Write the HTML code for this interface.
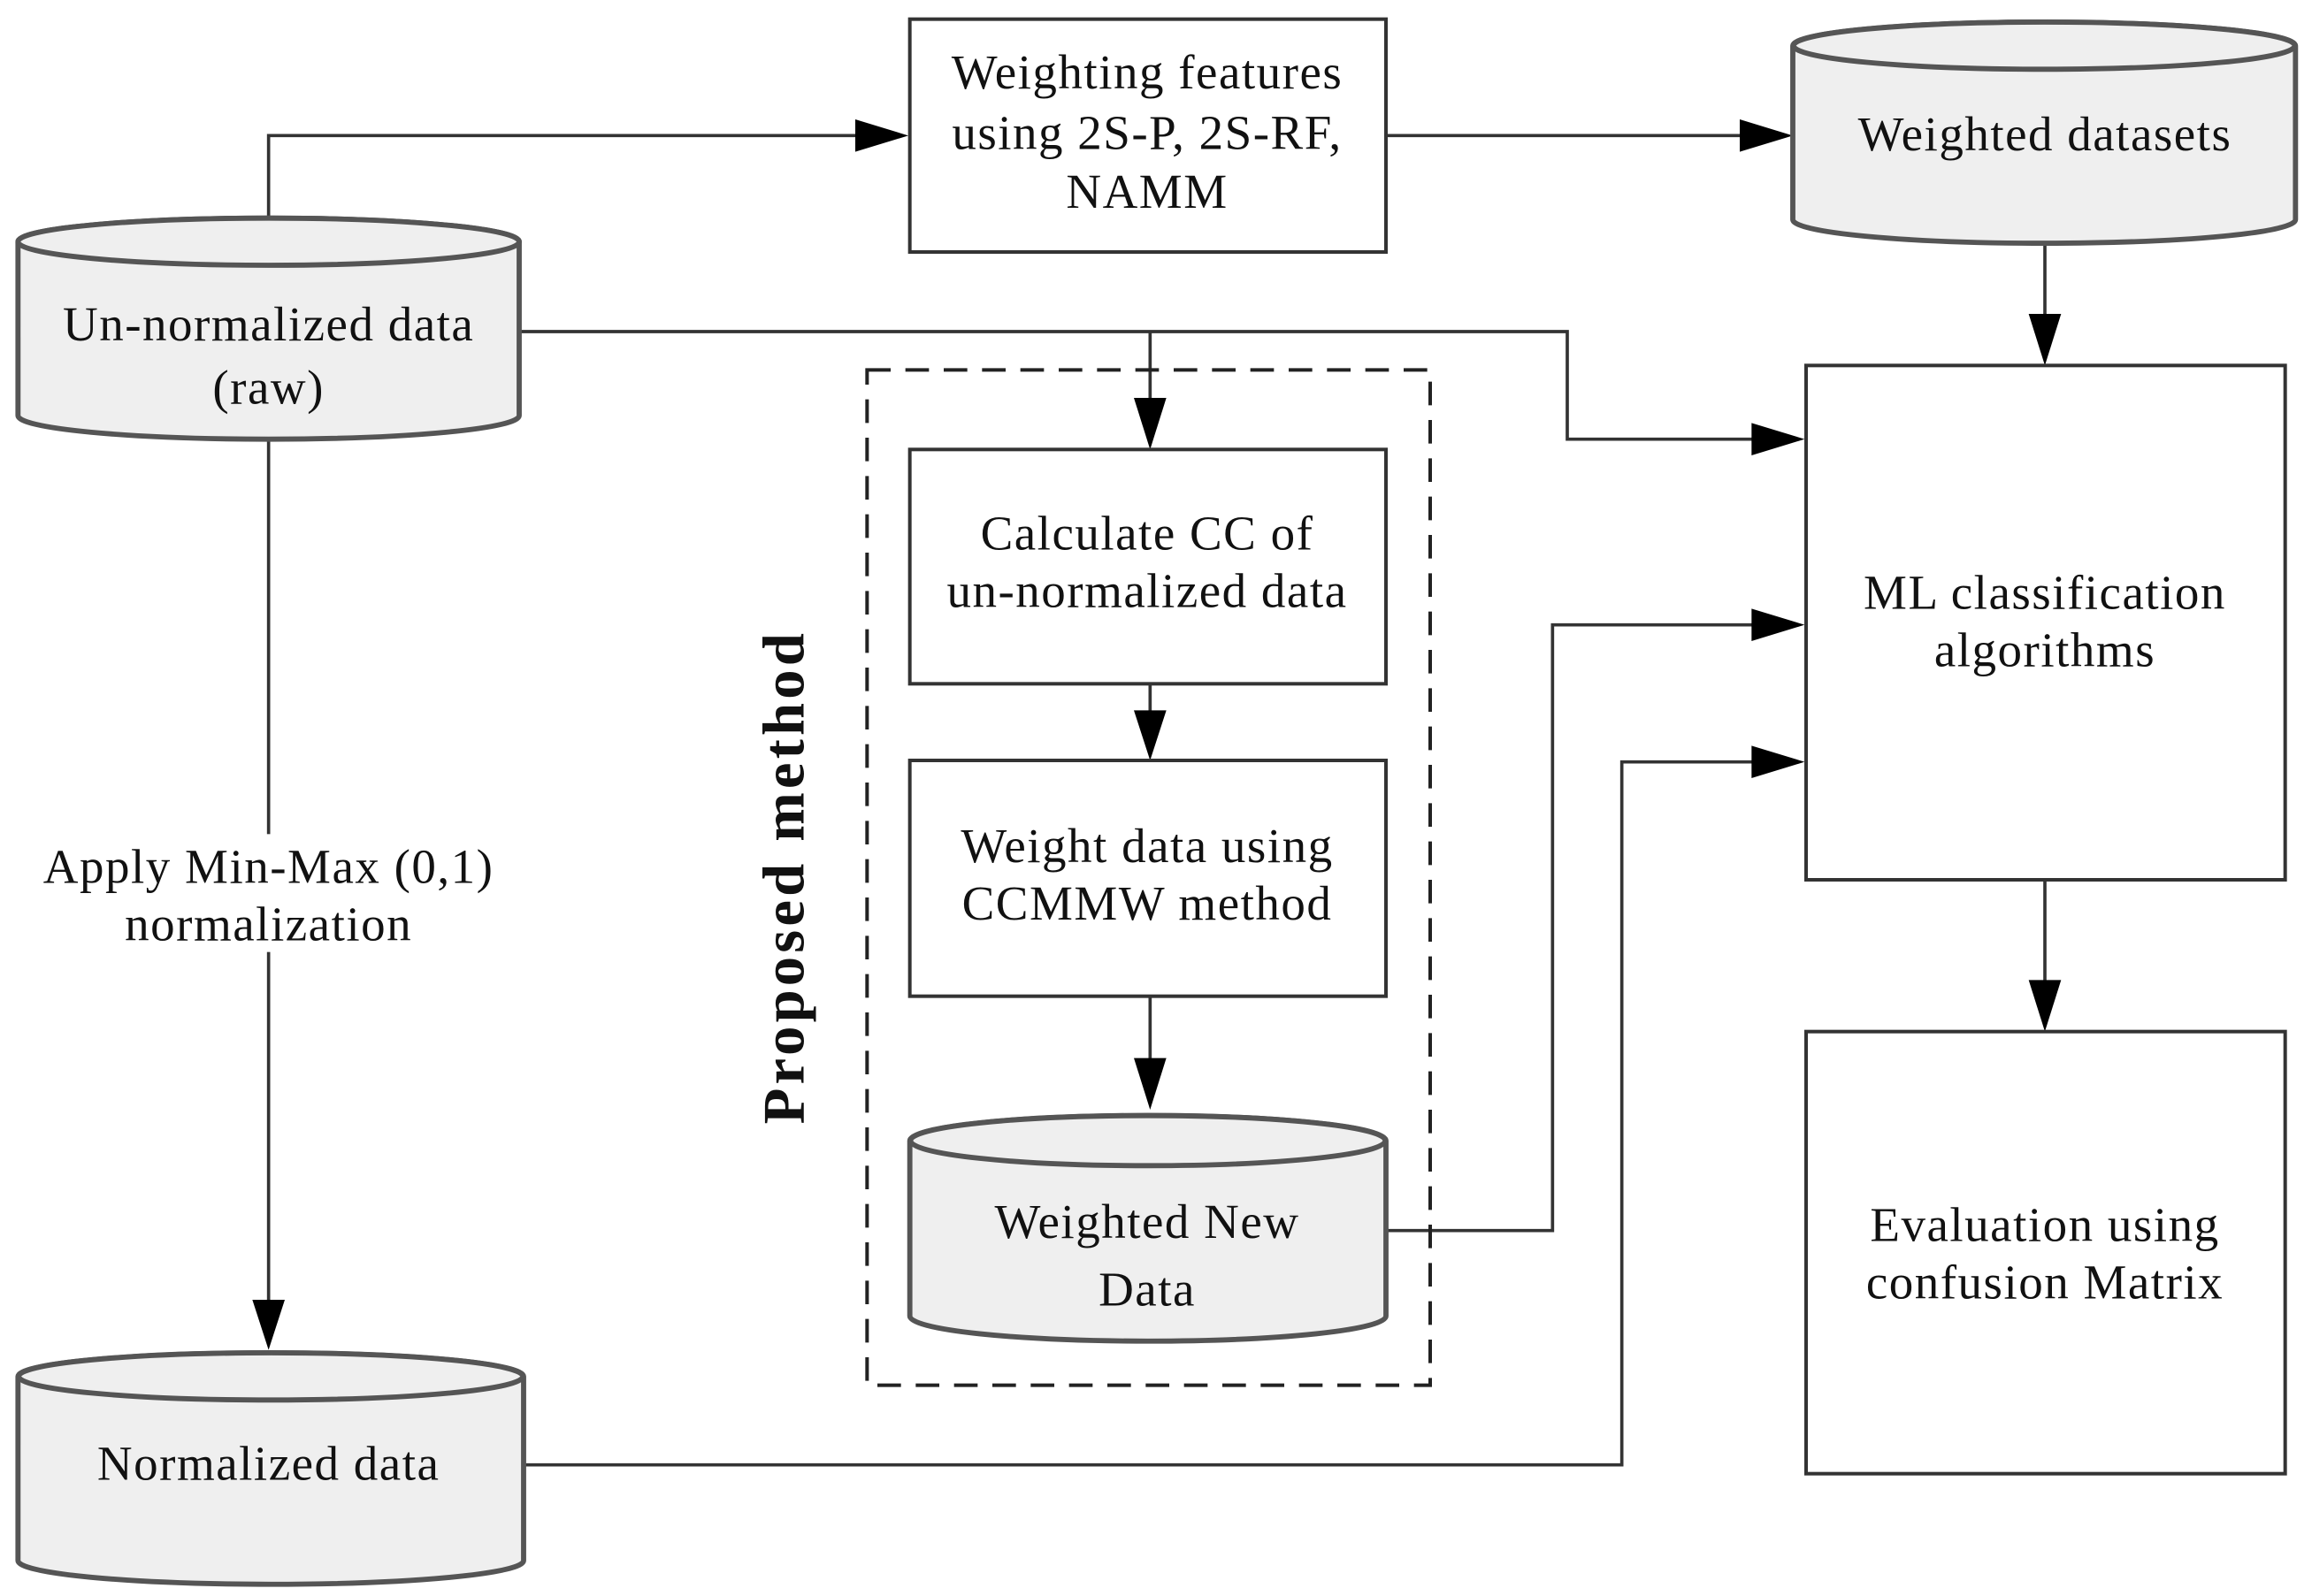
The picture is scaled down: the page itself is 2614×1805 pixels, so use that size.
<!DOCTYPE html>
<html><head><meta charset="utf-8"><style>
html,body{margin:0;padding:0;background:#fff}
svg{display:block}
text{font-family:"Liberation Serif",serif;font-size:33px;letter-spacing:0.9px;fill:#111;text-anchor:middle}
</style></head><body>
<svg width="2614" height="1805" viewBox="0 0 1568 1083" xmlns="http://www.w3.org/2000/svg">
<rect width="1568" height="1083" fill="#fff"/>
<g fill="none" stroke="#333" stroke-width="2.2">
<polyline points="182,148 182,92 585,92"/>
<line x1="940" y1="92" x2="1182" y2="92"/>
<line x1="1387" y1="165" x2="1387" y2="215"/>
<polyline points="352,225 1063,225 1063,298 1192,298"/>
<polyline points="780,225 780,272"/>
<line x1="780" y1="464" x2="780" y2="484"/>
<line x1="780" y1="676" x2="780" y2="720"/>
<polyline points="940,835 1053,835 1053,424 1192,424"/>
<line x1="182" y1="298" x2="182" y2="885"/>
<polyline points="355,994 1100,994 1100,517 1192,517"/>
<line x1="1387" y1="597" x2="1387" y2="667"/>
</g>
<g fill="#000">
<polygon points="580,81 616,92 580,103"/>
<polygon points="1180,81 1216,92 1180,103"/>
<polygon points="1376,213 1387,248 1398,213"/>
<polygon points="1188,287 1224,298 1188,309"/>
<polygon points="769,270 780,305 791,270"/>
<polygon points="769,482 780,516 791,482"/>
<polygon points="769,718 780,753 791,718"/>
<polygon points="1188,413 1224,424 1188,435"/>
<polygon points="1188,506 1224,517 1188,528"/>
<polygon points="171,882 182,916 193,882"/>
<polygon points="1376,665 1387,700 1398,665"/>
</g>
<rect x="588" y="251" width="382" height="689" fill="none" stroke="#222" stroke-width="2.4" stroke-dasharray="16,10"/>
<g fill="#fff" stroke="#333" stroke-width="2.4">
<rect x="617" y="13" width="323" height="158"/>
<rect x="617" y="305" width="323" height="159"/>
<rect x="617" y="516" width="323" height="160"/>
<rect x="1225" y="248" width="325" height="349"/>
<rect x="1225" y="700" width="325" height="300"/>
</g>
<g fill="#efefef" stroke="#555" stroke-width="3.5">
<path d="M12,164 A170,16 0 0 1 352,164 V282 A170,16 0 0 1 12,282 Z"/>
<ellipse cx="182" cy="164" rx="170" ry="16"/>
<path d="M1216,31 A170,16 0 0 1 1557,31 V149 A170,16 0 0 1 1216,149 Z"/>
<ellipse cx="1386.5" cy="31" rx="170" ry="16"/>
<path d="M617,774 A161,17 0 0 1 940,774 V893 A161,17 0 0 1 617,893 Z"/>
<ellipse cx="778.5" cy="774" rx="161" ry="17"/>
<path d="M12,934 A171,16 0 0 1 355,934 V1059 A171,16 0 0 1 12,1059 Z"/>
<ellipse cx="183.5" cy="934" rx="171" ry="16"/>
</g>
<rect x="25" y="566" width="315" height="80" fill="#fff"/>
<text x="778" y="60">Weighting features</text>
<text x="778" y="101">using 2S-P, 2S-RF,</text>
<text x="778" y="141">NAMM</text>
<text x="1387" y="102">Weighted datasets</text>
<text x="182" y="231">Un-normalized data</text>
<text x="182" y="274">(raw)</text>
<text x="778" y="373">Calculate CC of</text>
<text x="778" y="412">un-normalized data</text>
<text x="778" y="585">Weight data using</text>
<text x="778" y="624">CCMMW method</text>
<text x="778" y="840">Weighted New</text>
<text x="778" y="886">Data</text>
<text x="1387" y="413">ML classification</text>
<text x="1387" y="452">algorithms</text>
<text x="1387" y="842">Evaluation using</text>
<text x="1387" y="881">confusion Matrix</text>
<text x="182" y="599">Apply Min-Max (0,1)</text>
<text x="182" y="638">normalization</text>
<text x="182" y="1004">Normalized data</text>
<text transform="translate(545,595) rotate(-90)" style="font-size:40px;font-weight:bold;letter-spacing:2.5px">Proposed method</text>
</svg>
</body></html>
